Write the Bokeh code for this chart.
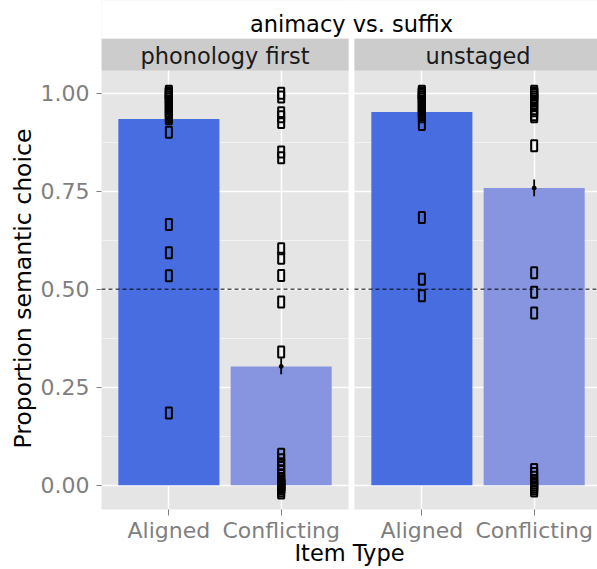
from bokeh.plotting import figure
from bokeh.models import Range1d, FixedTicker, NumeralTickFormatter, Title
from bokeh.core.properties import value
from bokeh.embed import file_html
from bokeh.resources import INLINE

# ---------------- data ----------------
chart_title = "animacy vs. suffix"
x_title = "Item Type"
y_title = "Proportion semantic choice"
panels = ["phonology first", "unstaged"]
item_types = ["Aligned", "Conflicting"]
y_ticks = [0.0, 0.25, 0.5, 0.75, 1.0]
y_minor = [0.125, 0.375, 0.625, 0.875]
chance = 0.5

# bar heights (means) per panel: [Aligned, Conflicting]
phon_means = [0.934, 0.303]
unst_means = [0.952, 0.758]
# error bar ranges
phon_ci_low = [0.918, 0.283]
phon_ci_high = [0.952, 0.324]
unst_ci_low = [0.935, 0.737]
unst_ci_high = [0.968, 0.780]

# individual item proportions
phon_aligned = [1.005, 1.0, 1.0, 1.0, 1.0, 0.995, 0.99, 0.99, 0.985, 0.98, 0.975,
                0.97, 0.965, 0.96, 0.955, 0.95, 0.945, 0.94, 0.935,
                0.90, 0.665, 0.593, 0.534, 0.184]
phon_conflicting = [1.0, 0.99, 0.95, 0.94, 0.925, 0.85, 0.835, 0.603, 0.579,
                    0.535, 0.467, 0.34, 0.079, 0.065, 0.055, 0.045, 0.035,
                    0.025, 0.015, 0.01, 0.005, 0.005, 0.0, 0.0, 0.0, 0.0,
                    -0.005, -0.005, -0.01, -0.015, -0.02]
unst_aligned = [1.005, 1.0, 1.0, 1.0, 1.0, 0.995, 0.99, 0.99, 0.985, 0.98, 0.975,
                0.97, 0.965, 0.96, 0.955, 0.95, 0.945, 0.94, 0.92,
                0.683, 0.525, 0.483]
unst_conflicting = [1.005, 1.0, 1.0, 1.0, 0.995, 0.99, 0.985, 0.98, 0.975, 0.97,
                    0.96, 0.955, 0.945, 0.94, 0.866, 0.542, 0.492, 0.439,
                    0.04, 0.03, 0.02, 0.01, 0.005, 0.0, -0.005, -0.01, -0.015]

# ---------------- styling / layout ----------------
FONT = "DejaVu Sans"
PANEL_BG = "#E5E5E5"
STRIP_BG = "#CCCCCC"
GREY = "#7F7F7F"
BAR_COLORS = ["#486DE0", "#8795E1"]
PANEL_GAP = 0.053
offsets = [0.0, 2.2 + PANEL_GAP]
x_lo, x_hi = 0.4, 2.6
panel_top = 1.0579
strip_top = 1.1387

p = figure(width=597, height=569,
           x_range=Range1d(0.4, 4.817), y_range=Range1d(-0.062, 1.2363),
           output_backend="svg", toolbar_location=None,
           min_border_left=101, min_border_right=0,
           min_border_top=0, min_border_bottom=60,
           background_fill_color=PANEL_BG, border_fill_color="white",
           outline_line_color=None)

xt = [i + 1 + off for off in offsets for i in range(len(item_types))]
p.xaxis.ticker = FixedTicker(ticks=xt)
p.xgrid.ticker = FixedTicker(ticks=xt)
p.xaxis.major_label_overrides = {t: item_types[i % 2] for i, t in enumerate(xt)}

p.yaxis.ticker = FixedTicker(ticks=y_ticks, minor_ticks=y_minor)
p.ygrid.ticker = FixedTicker(ticks=y_ticks, minor_ticks=y_minor)
p.yaxis.formatter = NumeralTickFormatter(format="0.00")

p.xgrid.grid_line_color = "white"
p.xgrid.grid_line_width = 1.5
p.ygrid.grid_line_color = "white"
p.ygrid.grid_line_width = 1.5
p.ygrid.minor_grid_line_color = "#F2F2F2"
p.ygrid.minor_grid_line_width = 1

for ax in (p.xaxis[0], p.yaxis[0]):
    ax.axis_line_color = None
    ax.major_tick_line_color = GREY
    ax.major_tick_in = 0
    ax.major_tick_out = 5
    ax.minor_tick_line_color = None
    ax.major_label_text_color = GREY
    ax.major_label_text_font = FONT
    ax.major_label_text_font_size = "22px"
p.xaxis.major_tick_out = 6
p.xaxis.major_label_standoff = 2
p.yaxis.major_label_standoff = 7
p.xaxis.axis_label = x_title
p.xaxis.axis_label_text_font = FONT
p.xaxis.axis_label_text_font_size = "22.5px"
p.xaxis.axis_label_text_font_style = "normal"
p.xaxis.axis_label_text_color = "black"
p.xaxis.axis_label_standoff = -6

# y-axis title, centred on the panels (not on the strips)
p.add_layout(Title(text=y_title, align="left", offset=61,
                   text_font=FONT, text_font_size="23.5px",
                   text_font_style="normal", text_color="black",
                   standoff=2), "left")

# white area above the strips (title zone)
p.quad(left=[0], right=[6], bottom=[strip_top], top=[2],
       fill_color="white", line_color=None)
# gap between facets
p.quad(left=[x_hi], right=[x_hi + PANEL_GAP], bottom=[-1], top=[2],
       fill_color="white", line_color=None)
# strips
p.quad(left=[x_lo + o for o in offsets], right=[x_hi + o for o in offsets],
       bottom=[panel_top] * 2, top=[strip_top] * 2,
       fill_color=STRIP_BG, line_color=None)
p.text(x=[1.5 + o for o in offsets], y=[1.0953] * 2, text=panels,
       text_align="center", text_baseline="alphabetic",
       text_font=value(FONT), text_font_size="22.5px", text_color="#1A1A1A")

means = [phon_means, unst_means]
lows = [phon_ci_low, unst_ci_low]
highs = [phon_ci_high, unst_ci_high]
points = [[phon_aligned, phon_conflicting], [unst_aligned, unst_conflicting]]

for k, off in enumerate(offsets):
    xs = [1 + off, 2 + off]
    p.vbar(x=xs, top=means[k], bottom=0, width=0.9,
           fill_color=BAR_COLORS, line_color=None)
    p.segment(x0=[x_lo + off], x1=[x_hi + off], y0=[chance], y1=[chance],
              line_color="black", line_width=1, line_dash="4 3")
    for j, vals in enumerate(points[k]):
        p.rect(x=[xs[j]] * len(vals), y=vals, width=6, height=11,
               width_units="screen", height_units="screen",
               fill_color=None, line_color="black", line_width=2)
    p.segment(x0=xs, x1=xs, y0=lows[k], y1=highs[k],
              line_color="black", line_width=1.8)
    p.scatter(x=xs, y=means[k], size=4, color="black")

center_x = (x_lo + x_hi + offsets[1]) / 2
p.text(x=[center_x], y=[1.176], text=[chart_title], text_align="center",
       text_baseline="alphabetic", text_font=value(FONT),
       text_font_size="22.5px", text_color="black")

open("out.html", "w").write(file_html(p, INLINE))
